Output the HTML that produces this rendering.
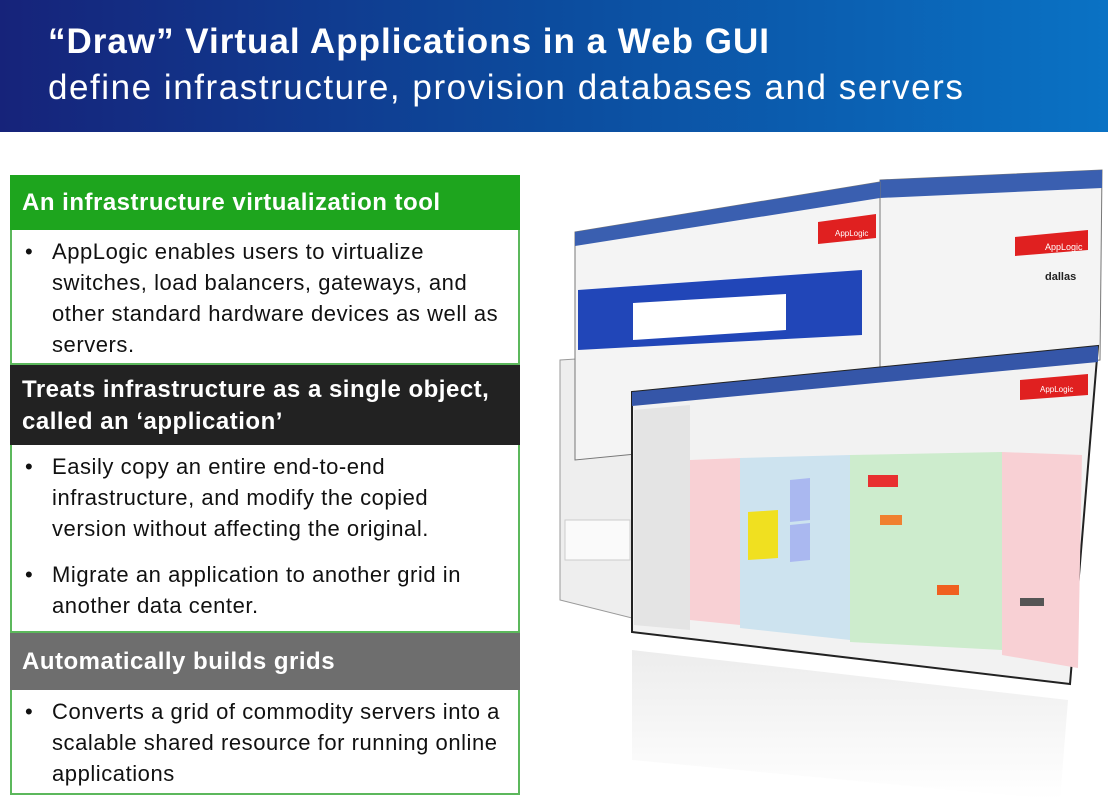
<!DOCTYPE html>
<html><head><meta charset="utf-8"><style>
body{margin:0;width:1108px;height:809px;overflow:hidden;background:#fff;font-family:"Liberation Sans",sans-serif;position:relative}
.hdr{position:absolute;left:0;top:0;width:1108px;height:132px;background:linear-gradient(90deg,#16237a 0%,#0c4c9e 50%,#0a72c4 100%)}
.t1{position:absolute;left:48px;top:22px;color:#fff;font-size:35px;font-weight:bold;letter-spacing:1.0px;white-space:nowrap}
.t2{position:absolute;left:48px;top:68px;color:#fff;font-size:35px;letter-spacing:1.55px;white-space:nowrap}
.box{position:absolute;left:10px;width:510px;box-sizing:border-box}
.h{color:#fff;font-weight:bold;font-size:24px;letter-spacing:0.5px;padding-left:12px;box-sizing:border-box;white-space:nowrap}
.b{border:2px solid #5cb85c;border-top:none;background:#fff;font-size:22px;letter-spacing:0.55px;line-height:31px;color:#111;padding:6px 8px 0 40px;box-sizing:border-box;white-space:nowrap}
.b p{margin:0;position:relative}
.b p:before{content:"•";position:absolute;left:-27px}
</style></head><body>
<div class="hdr"><div class="t1">“Draw” Virtual Applications in a Web GUI</div><div class="t2">define infrastructure, provision databases and servers</div></div>

<div class="box h" style="top:175px;height:55px;background:#1ea51e;line-height:55px">An infrastructure virtualization tool</div>
<div class="box b" style="top:230px;height:135px">
<p>AppLogic enables users to virtualize<br>switches, load balancers, gateways, and<br>other standard hardware devices as well as<br>servers.</p></div>
<div class="box h" style="top:365px;height:80px;background:#222;line-height:32px;padding-top:9px">Treats infrastructure as a single object,<br>called an ‘application’</div>
<div class="box b" style="top:445px;height:188px">
<p>Easily copy an entire end-to-end<br>infrastructure, and modify the copied<br>version without affecting the original.</p>
<p style="margin-top:15px">Migrate an application to another grid in<br>another data center.</p></div>
<div class="box h" style="top:633px;height:57px;background:#6e6e6e;line-height:57px">Automatically builds grids</div>
<div class="box b" style="top:690px;height:105px">
<p>Converts a grid of commodity servers into a<br>scalable shared resource for running online<br>applications</p></div>

<svg style="position:absolute;left:0;top:0" width="1108" height="809">
<defs><linearGradient id="rf" x1="0" y1="0" x2="0" y2="1"><stop offset="0" stop-color="#e8e8e8"/><stop offset="1" stop-color="#fff"/></linearGradient></defs>
<polygon points="632,650 1068,700 1060,800 632,760" fill="url(#rf)" opacity=".8"/>
<polygon points="560,360 640,355 640,620 560,600" fill="#eee" stroke="#999"/>
<polygon points="565,520 630,520 630,560 565,560" fill="#fafafa" stroke="#ccc"/>
<polygon points="880,180 1102,170 1100,360 880,380" fill="#f4f4f4" stroke="#777"/>
<polygon points="880,180 1102,170 1102,188 880,198" fill="#3a5fb0"/>
<polygon points="1015,237 1088,230 1088,250 1015,256" fill="#e02020"/>
<text x="1045" y="250" font-size="9" fill="#fff">AppLogic</text>
<text x="1045" y="280" font-size="11" font-weight="bold" fill="#222">dallas</text>
<polygon points="575,232 880,182 880,430 575,460" fill="#f4f4f4" stroke="#777"/>
<polygon points="575,232 880,182 880,198 575,246" fill="#3a5fb0"/>
<polygon points="818,222 876,214 876,238 818,244" fill="#e02020"/>
<text x="835" y="236" font-size="8" fill="#fff">AppLogic</text>
<polygon points="578,290 862,270 862,335 578,350" fill="#2146b8"/>
<polygon points="633,303 786,294 786,330 633,340" fill="#fff"/>
<polygon points="632,392 1098,346 1070,684 632,632" fill="#f2f2f2" stroke="#222" stroke-width="2"/>
<polygon points="632,392 1098,346 1098,362 632,406" fill="#3556a8"/>
<polygon points="1020,380 1088,374 1088,395 1020,400" fill="#e02020"/>
<text x="1040" y="392" font-size="8" fill="#fff">AppLogic</text>
<polygon points="690,460 740,458 740,625 690,620" fill="#f8d0d4"/>
<polygon points="740,458 850,455 850,640 740,628" fill="#cde3ef"/>
<polygon points="850,455 1002,452 1002,650 850,642" fill="#cdeccd"/>
<polygon points="1002,452 1082,455 1078,668 1002,655" fill="#f8d0d4"/>
<polygon points="748,512 778,510 778,558 748,560" fill="#f0e020"/>
<polygon points="790,480 810,478 810,520 790,522" fill="#aab8f0"/>
<polygon points="790,525 810,523 810,560 790,562" fill="#aab8f0"/>
<rect x="868" y="475" width="30" height="12" fill="#e83030"/>
<rect x="880" y="515" width="22" height="10" fill="#f08030"/>
<rect x="937" y="585" width="22" height="10" fill="#f06020"/>
<rect x="1020" y="598" width="24" height="8" fill="#555"/>
<polygon points="634,410 690,405 690,630 634,625" fill="#e4e4e4"/>
</svg>
</body></html>
